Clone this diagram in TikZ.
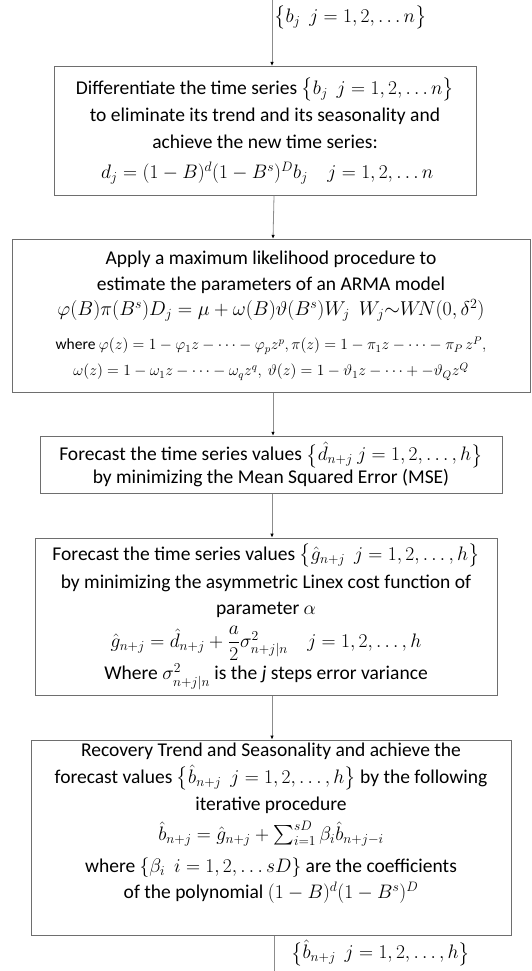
\RequirePackage{fix-cm}
\documentclass[tikz,border=0pt]{standalone}
\usepackage{amsmath}
\usepackage{amssymb}
\usepackage{fontspec}
\setmainfont{Carlito}
\usepackage{tikz}
\usetikzlibrary{arrows.meta, positioning, calc}
\definecolor{boxgray}{RGB}{110, 110, 110}
\definecolor{linegray}{RGB}{140, 140, 140}

\tikzset{
  procbox/.style={draw=boxgray, line width=0.9pt, align=center, inner sep=2pt,
    font=\fontsize{19.5}{26}\selectfont},
  flow/.style={draw=linegray, line width=0.8pt, -{Latex[length=4pt, width=3.5pt, black]}},
  flowlabel/.style={font=\fontsize{19.5}{26}\selectfont, inner sep=0pt}
}
% smaller size for the polynomial lines
\newcommand{\smline}[1]{{\fontsize{15.5}{21}\selectfont #1}}

\begin{document}
\begin{tikzpicture}
                \useasboundingbox (0pt,0pt) rectangle (531pt,-971pt);

                % --- input series ---
                \coordinate (src) at (272pt,0pt);
                \node[flowlabel, anchor=north west] (srclab) at (274pt,-6pt) {$\bigl\{b_j\ \ j=1,2,\ldots n\bigr\}$};

                % --- differencing ---
                \node[procbox, minimum width=422pt, minimum height=129pt, below=66pt of src, xshift=-7pt] (diff) {%
                  Differentiate the time series $\bigl\{b_j\ \ j=1,2,\ldots n\bigr\}$\\[1pt]
                  to eliminate its trend and its seasonality and\\[1pt]
                  achieve the new time series:\\[4pt]
                  $\ d_j=(1-B)^d(1-B^s)^D b_j\quad j=1,2,\ldots n$};
                \draw[flow] (src) -- (diff.north -| src);

                % --- ARMA estimation ---
                \node[procbox, minimum width=518pt, minimum height=153pt, below=43pt of diff, xshift=6pt] (arma) {%
                  Apply a maximum likelihood procedure to\\
                  estimate the parameters of an ARMA model\\[-1pt]
                  {\fontsize{20}{24}\selectfont $\varphi(B)\pi(B^s)D_j=\mu+\omega(B)\vartheta(B^s)W_j\ \ W_j{\sim}W\!N(0,\delta^2)$}\\[8pt]
                  \smline{where $\varphi(z)=1-\varphi_1z-\cdots-\varphi_pz^p,\pi(z)=1-\pi_1z-\cdots-\pi_P\,z^P,$}\\
                  \smline{$\omega(z)=1-\omega_1z-\cdots-\omega_qz^q,\ \vartheta(z)=1-\vartheta_1z-\cdots+-\vartheta_Qz^Q$}};
                \draw[flow] ([xshift=2pt]diff.south -| src) -- ([xshift=8pt]diff.south |- arma.north);

                % --- MSE forecast ---
                \node[procbox, minimum width=462pt, minimum height=57pt, below=43pt of arma] (mse) {%
                  Forecast the time series values $\bigl\{\hat d_{n+j}\ j=1,2,\ldots,h\bigr\}$\\[-3pt]
                  by minimizing the Mean Squared Error (MSE)};
                \draw[flow] ([xshift=2pt]arma.south) -- ([xshift=2pt]arma.south |- mse.north);

                % --- Linex forecast ---
                \node[procbox, minimum width=462pt, minimum height=157pt, below=44pt of mse, xshift=-5pt] (linex) {%
                  Forecast the time series values $\bigl\{\hat g_{n+j}\ \ j=1,2,\ldots,h\bigr\}$\\[2pt]
                  by minimizing the asymmetric Linex cost function of\\
                  parameter $\alpha$\\[7pt]
                  $\hat g_{n+j}=\hat d_{n+j}+\dfrac{a}{2}\sigma^2_{n+j|n}\quad j=1,2,\ldots,h$\\[2pt]
                  Where $\sigma^2_{n+j|n}$ is the \textit{j} steps error variance};
                \draw[flow] ([xshift=1pt]mse.south) -- ([xshift=1pt]mse.south |- linex.north);

                % --- recovery ---
                \node[procbox, minimum width=480pt, minimum height=195pt, below=44pt of linex, xshift=5pt] (recov) {%
                  Recovery Trend and Seasonality and achieve the\\[1pt]
                  forecast values $\bigl\{\hat b_{n+j}\ \ j=1,2,\ldots,h\bigr\}$ by the following\\[1pt]
                  iterative procedure\\[4pt]
                  $\hat b_{n+j}=\hat g_{n+j}+\textstyle\sum_{i=1}^{sD}\beta_i\hat b_{n+j-i}$\\[6pt]
                  where $\{\beta_i\ \ i=1,2,\ldots sD\}$ are the coefficients\\
                  of the polynomial $(1-B)^d(1-B^s)^D$\\[8pt]};
                \draw[flow] ([xshift=6pt]linex.south) -- ([xshift=6pt]linex.south |- recov.north);

                % --- output series ---
                \coordinate[below=40pt of recov, xshift=3pt] (sink);
                \draw[flow] (recov.south -| sink) -- (sink);
                \node[flowlabel, anchor=west] (sinklab) at (291pt,-953pt) {$\bigl\{\hat b_{n+j}\ \ j=1,2,\ldots,h\bigr\}$};

            \end{tikzpicture}
\end{document}
